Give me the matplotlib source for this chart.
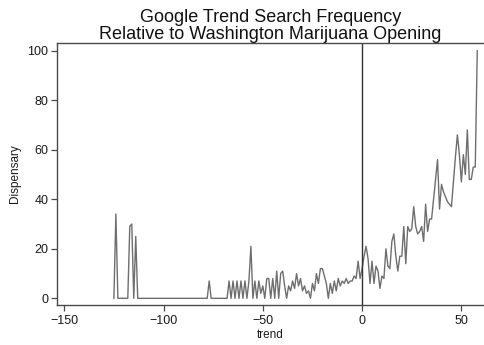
import numpy as np
import matplotlib
matplotlib.use("Agg")
import matplotlib.pyplot as plt

plt.rcParams["font.family"] = ["Liberation Sans", "DejaVu Sans"]

# ---------------------------------------------------------------------------
# Data: daily Google Trends index, days relative to the opening (trend = 0)
# ---------------------------------------------------------------------------

TREND_FIRST = -125
TREND_LAST = 58

# days -125 .. -69
early_days = [
    0, 34, 0, 0, 0, 0, 0, 0, 29, 30,
    0, 25, 0, 0, 0, 0, 0, 0, 0, 0,
    0, 0, 0, 0, 0, 0, 0, 0, 0, 0,
    0, 0, 0, 0, 0, 0, 0, 0, 0, 0,
    0, 0, 0, 0, 0, 0, 0, 0, 7, 0,
    0, 0, 0, 0, 0, 0, 0,
]

# days -68 .. -1
pre_opening = [
    0, 7, 0, 7, 0, 7, 0, 7, 0, 7,
    0, 7, 21, 0, 7, 0, 7, 2, 5, 0,
    8, 8, 0, 8, 0, 11, 0, 10, 11, 5,
    0, 5, 3, 7, 4, 10, 5, 8, 3, 5,
    2, 3, 0, 6, 3, 10, 6, 12, 12, 9,
    6, 0, 6, 2, 7, 3, 8, 5, 7, 6,
    8, 6, 7, 7, 9, 8, 15, 8,
]

# days 0 .. 58
post_opening = [
    12, 17, 21, 16, 6, 15, 6, 13, 11, 4,
    9, 8, 20, 13, 12, 23, 26, 17, 11, 17,
    17, 29, 14, 29, 27, 28, 37, 29, 26, 27,
    29, 23, 38, 27, 32, 32, 40, 48, 56, 36,
    46, 43, 41, 39, 38, 37, 47, 57, 66, 58,
    47, 58, 50, 68, 48, 48, 53, 53, 100,
]

X_TICKS = [-150, -100, -50, 0, 50]
Y_TICKS = [0, 20, 40, 60, 80, 100]

TITLE = "Google Trend Search Frequency\nRelative to Washington Marijuana Opening"

trend = np.arange(TREND_FIRST, TREND_LAST + 1)
dispensary = np.array(early_days + pre_opening + post_opening)

# ---------------------------------------------------------------------------
# Figure
# ---------------------------------------------------------------------------

AXIS_COLOR = "#4a4a4a"

fig = plt.figure(figsize=(4.84, 3.45), dpi=100)
ax = fig.add_axes([0.1184, 0.1159, 0.8816, 0.7603])

ax.plot(trend, dispensary, color="#6e6e6e", lw=1.0)
ax.axvline(0, color="#333333", lw=1.0)

ax.set_xlim(-153.5, 61.4)
ax.set_ylim(-2.7, 103.2)
ax.set_xticks(X_TICKS)
ax.set_yticks(Y_TICKS)

for side in ("left", "bottom", "top"):
    ax.spines[side].set_color(AXIS_COLOR)
    ax.spines[side].set_linewidth(1.0)
ax.spines["right"].set_visible(False)

ax.tick_params(axis="both", direction="out", length=4.5, width=0.9,
               color=AXIS_COLOR, labelsize=9, labelcolor="#1a1a1a")
ax.tick_params(axis="x", pad=3)
ax.tick_params(axis="y", pad=2)

ax.set_xlabel("trend", fontsize=8.5, color="#1a1a1a")
ax.xaxis.set_label_coords(0.5, -0.114)
ax.xaxis.label.set_va("center")
ax.set_ylabel("Dispensary", fontsize=8.5, color="#1a1a1a")
ax.yaxis.set_label_coords(-0.099, 0.5)
ax.yaxis.label.set_va("center")

ax.set_title(TITLE, fontsize=13, linespacing=1.0, pad=3, color="#111111")

fig.savefig("out.png", dpi=100)
